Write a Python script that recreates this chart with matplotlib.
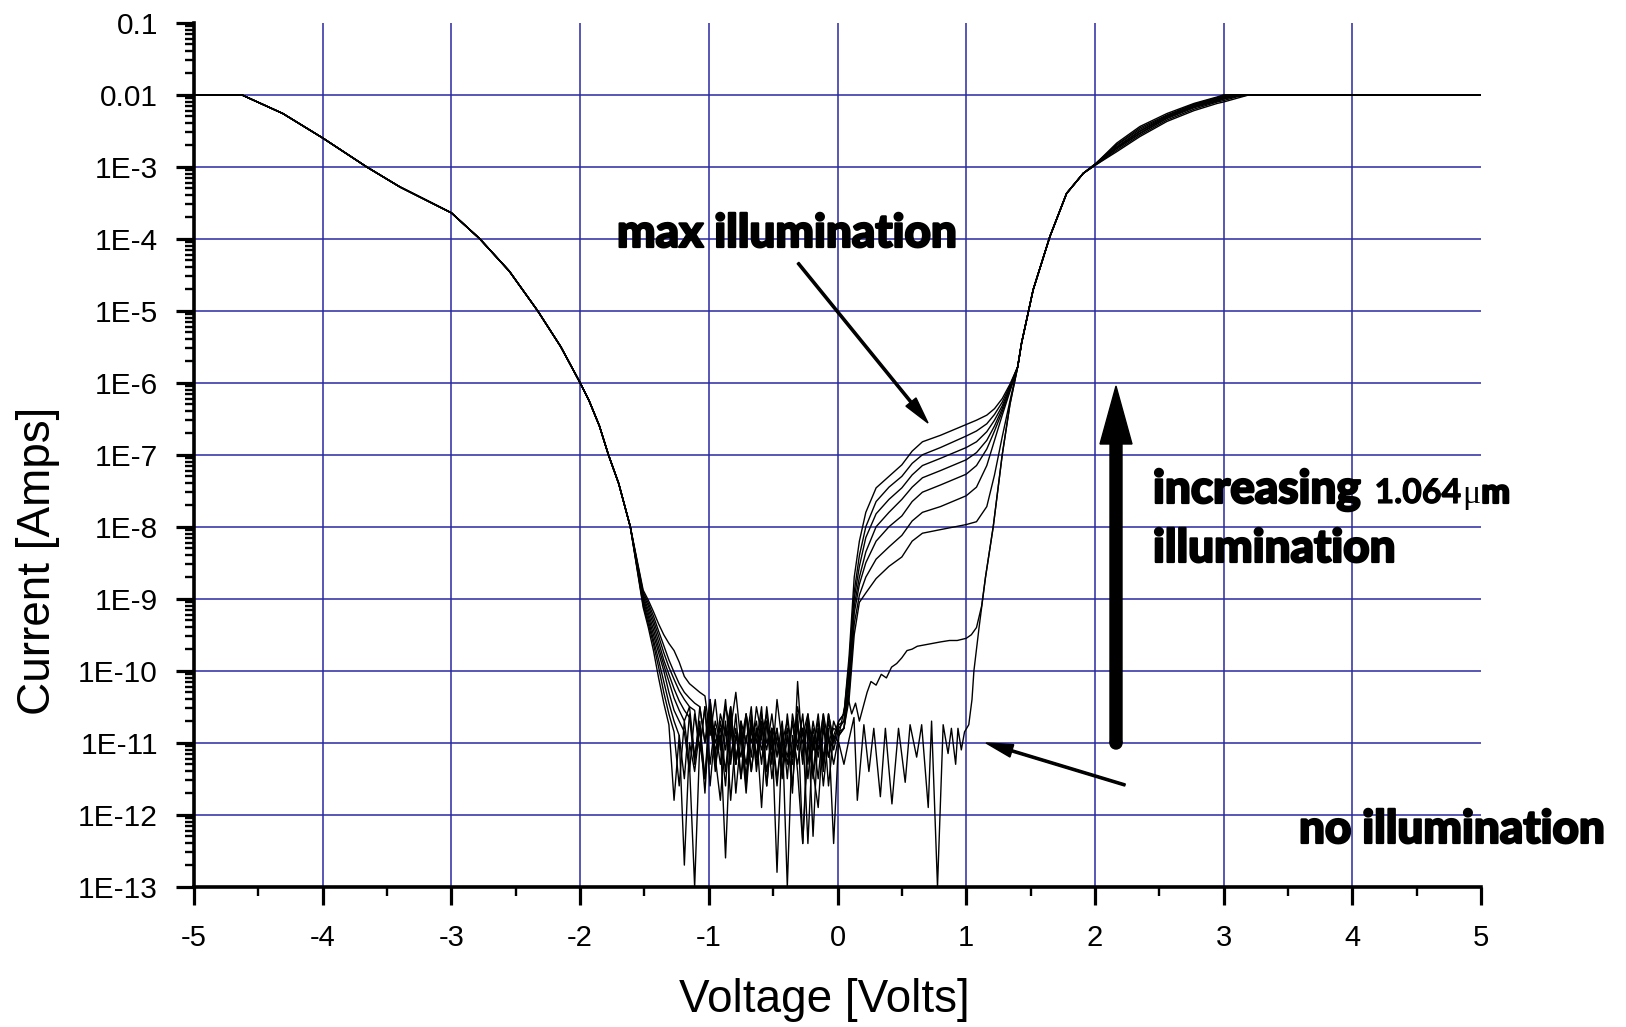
import numpy as np
import matplotlib
matplotlib.use("Agg")
import matplotlib.pyplot as plt
import matplotlib.patheffects as pe
from matplotlib.patches import FancyArrow, Circle
from matplotlib.transforms import IdentityTransform
from matplotlib.ticker import FixedLocator, LogLocator, NullFormatter

# ---------------------------------------------------------------------------
# I-V sweeps of the detector, log10(current / A) versus bias (V).
# Curve index 0 = no illumination, 1..8 = increasing 1.064 um illumination.
# ---------------------------------------------------------------------------

# reverse-bias branch shared by every sweep (compliance at 10 mA)
LEFT_X = [-5.0, -4.63, -4.31, -4.0, -3.66, -3.40, -3.2, -3.0, -2.78, -2.55,
          -2.33, -2.15, -2.0, -1.93, -1.85, -1.78, -1.70, -1.61]
LEFT_LOG = [-2.0, -2.0, -2.26, -2.60, -3.0, -3.28, -3.46, -3.64, -4.0, -4.45,
            -5.0, -5.5, -6.0, -6.25, -6.6, -7.0, -7.4, -8.0]

# low-bias region (noise floor), one list per sweep
MID_X = [-1.51, -1.47, -1.43, -1.39, -1.35, -1.31, -1.27, -1.23, -1.19, -1.15,
         -1.11, -1.07, -1.03, -0.99, -0.95, -0.91, -0.87, -0.83, -0.79, -0.75,
         -0.71, -0.67, -0.63, -0.59, -0.55, -0.51, -0.47, -0.43, -0.39, -0.35,
         -0.31, -0.27, -0.23, -0.19, -0.15, -0.11, -0.07, -0.03, 0.01]
MID_LOG = [
    [-9.12, -9.4, -9.72, -10.1, -10.45, -10.75, -11.8, -10.9, -12.7, -11.0,
     -11.4, -10.8, -11.5, -10.7, -11.3, -10.9, -11.6, -10.6, -11.2, -10.9,
     -11.7, -10.8, -11.3, -10.7, -11.4, -10.9, -11.6, -10.8, -13.0, -10.9,
     -11.3, -10.8, -12.4, -10.9, -11.5, -10.7, -11.2, -10.9, -11.0],
    [-9.09, -9.35, -9.63, -9.95, -10.3, -10.6, -10.85, -11.6, -10.7, -11.3,
     -13.0, -11.0, -11.5, -10.6, -11.2, -11.8, -10.8, -11.3, -10.6, -11.5,
     -10.9, -11.4, -10.8, -11.9, -10.7, -11.2, -10.8, -11.5, -10.9, -11.3,
     -10.6, -12.4, -11.0, -11.4, -10.8, -11.6, -10.9, -11.3, -10.9],
    [-9.06, -9.3, -9.57, -9.85, -10.15, -10.45, -10.7, -10.9, -11.5, -10.6,
     -11.2, -10.8, -11.7, -10.5, -11.1, -10.9, -12.6, -10.8, -11.3, -10.7,
     -11.5, -10.6, -11.2, -10.9, -11.6, -10.8, -11.0, -11.4, -10.9, -11.7,
     -10.15, -11.2, -10.7, -11.5, -10.9, -11.3, -10.8, -12.4, -10.9],
    [-9.03, -9.25, -9.5, -9.75, -10.0, -10.3, -10.55, -10.7, -10.85, -11.4,
     -10.6, -11.1, -10.5, -11.6, -10.8, -11.3, -10.7, -11.8, -10.9, -11.2,
     -10.6, -11.4, -10.8, -11.1, -10.7, -11.5, -10.9, -11.2, -10.8, -11.6,
     -10.7, -11.3, -10.6, -11.4, -11.9, -10.8, -11.2, -10.7, -10.9],
    [-9.0, -9.2, -9.43, -9.68, -9.92, -10.15, -10.38, -10.55, -10.7, -10.5,
     -11.2, -10.7, -11.5, -10.4, -11.0, -10.8, -11.4, -10.6, -11.7, -10.9,
     -11.3, -10.7, -11.0, -10.5, -11.6, -10.8, -12.8, -10.9, -11.3, -10.7,
     -11.1, -10.6, -11.5, -10.8, -11.2, -10.6, -11.0, -10.8, -10.85],
    [-8.97, -9.15, -9.36, -9.6, -9.85, -10.05, -10.25, -10.42, -10.55, -10.65,
     -11.3, -10.5, -11.0, -10.6, -11.4, -10.7, -11.1, -10.5, -11.3, -10.8,
     -11.6, -10.7, -11.2, -10.6, -11.0, -10.8, -11.5, -10.9, -11.2, -10.7,
     -11.4, -12.4, -10.8, -11.1, -10.6, -11.3, -10.7, -11.1, -10.8],
    [-8.94, -9.1, -9.3, -9.52, -9.75, -9.95, -10.12, -10.28, -10.4, -10.5,
     -10.55, -11.1, -10.5, -11.3, -10.7, -11.0, -10.4, -11.2, -10.8, -11.5,
     -10.6, -11.0, -10.7, -11.3, -10.5, -11.1, -10.8, -11.4, -10.6, -11.2,
     -10.8, -11.0, -10.7, -12.3, -10.8, -11.2, -10.6, -11.0, -10.75],
    [-8.91, -9.06, -9.24, -9.45, -9.65, -9.85, -10.02, -10.18, -10.3, -10.38,
     -10.45, -10.5, -11.0, -10.4, -11.2, -10.6, -10.9, -10.5, -11.3, -10.7,
     -11.0, -10.5, -11.4, -10.8, -11.1, -10.6, -11.2, -10.7, -11.5, -10.6,
     -11.0, -10.8, -11.3, -10.7, -11.1, -10.6, -11.6, -10.9, -10.7],
    [-8.88, -9.02, -9.18, -9.35, -9.5, -9.62, -9.72, -9.88, -10.08, -10.18,
     -10.24, -10.3, -10.35, -10.9, -10.4, -11.1, -10.5, -10.8, -10.3, -11.0,
     -10.6, -11.2, -10.5, -10.9, -10.6, -11.3, -10.4, -11.0, -10.7, -11.2,
     -10.5, -10.9, -10.6, -11.1, -10.7, -11.4, -10.6, -11.0, -10.7],
]

# forward bias, no illumination
DARK_FWD_X = [0.05, 0.09, 0.128, 0.154, 0.205, 0.244, 0.282, 0.333, 0.372,
              0.423, 0.474, 0.526, 0.564, 0.615, 0.654, 0.705, 0.731, 0.777,
              0.821, 0.859, 0.885, 0.918, 0.936, 0.962, 0.987, 1.02, 1.045,
              1.06, 1.10]
DARK_FWD_LOG = [-11.3, -10.95, -10.65, -11.8, -10.75, -11.4, -10.8, -11.75,
                -10.8, -11.85, -10.8, -11.55, -10.75, -11.2, -10.75, -11.9,
                -10.7, -13.0, -10.75, -11.15, -10.8, -11.3, -10.8, -11.1,
                -10.85, -10.75, -10.4, -10.0, -9.4]

# forward bias, weakest illumination
C1_X = [0.05, 0.08, 0.11, 0.14, 0.17, 0.20, 0.23, 0.26, 0.30, 0.34, 0.38,
        0.42, 0.46, 0.50, 0.54, 0.58, 0.62, 0.68, 0.74, 0.80, 0.87, 0.93,
        1.0, 1.04, 1.08, 1.12]
C1_LOG = [-10.55, -10.35, -10.6, -10.45, -10.7, -10.5, -10.3, -10.15, -10.2,
          -10.05, -10.1, -9.95, -9.9, -9.82, -9.72, -9.7, -9.66, -9.64,
          -9.62, -9.6, -9.58, -9.58, -9.55, -9.5, -9.4, -9.1]

# steep turn-on shared by the two lowest sweeps
STEEP_X = [1.15, 1.21, 1.28, 1.34]
STEEP_LOG = [-8.7, -8.0, -7.0, -6.3]

# forward bias, sweeps 2..8
FAM_X = [0.05, 0.09, 0.13, 0.17, 0.22, 0.30, 0.40, 0.50, 0.58, 0.66, 0.80,
         1.00, 1.08, 1.16, 1.22, 1.28, 1.34]
FAM_LOG = [
    [-10.8, -10.4, -9.5, -9.05, -8.92, -8.72, -8.55, -8.42, -8.2, -8.09,
     -8.04, -7.97, -7.93, -7.72, -7.28, -6.75, -6.25],
    [-10.8, -10.3, -9.35, -8.95, -8.7, -8.45, -8.28, -8.12, -7.92, -7.8,
     -7.72, -7.57, -7.45, -7.15, -6.8, -6.45, -6.12],
    [-10.8, -10.2, -9.2, -8.8, -8.5, -8.2, -8.0, -7.85, -7.65, -7.52,
     -7.42, -7.27, -7.15, -6.92, -6.67, -6.4, -6.1],
    [-10.7, -10.1, -9.1, -8.7, -8.35, -8.0, -7.8, -7.62, -7.45, -7.32,
     -7.22, -7.07, -6.97, -6.8, -6.6, -6.36, -6.08],
    [-10.7, -10.0, -9.0, -8.55, -8.15, -7.82, -7.62, -7.46, -7.28, -7.15,
     -7.05, -6.9, -6.82, -6.68, -6.52, -6.32, -6.06],
    [-10.6, -9.9, -8.9, -8.4, -8.0, -7.65, -7.45, -7.30, -7.12, -7.0,
     -6.9, -6.74, -6.67, -6.57, -6.44, -6.27, -6.04],
    [-10.6, -9.8, -8.7, -8.2, -7.8, -7.46, -7.30, -7.14, -6.95, -6.82,
     -6.73, -6.58, -6.52, -6.45, -6.36, -6.22, -6.02],
]

# high forward bias, shared
RIGHT_X = [1.40, 1.43, 1.52, 1.65, 1.78, 1.91]
RIGHT_LOG = [-5.78, -5.45, -4.71, -3.97, -3.37, -3.09]

# approach to compliance, one list per sweep
FAN_X = [2.01, 2.17, 2.35, 2.56, 2.77, 2.95, 3.0, 3.1, 3.2]
FAN_LOG = [
    [-2.95, -2.67, -2.44, -2.26, -2.12, -2.03, -2.0, -2.0, -2.0],
    [-2.95, -2.69, -2.46, -2.28, -2.13, -2.04, -2.01, -2.0, -2.0],
    [-2.95, -2.70, -2.48, -2.29, -2.14, -2.05, -2.02, -2.0, -2.0],
    [-2.96, -2.72, -2.50, -2.30, -2.15, -2.06, -2.03, -2.01, -2.0],
    [-2.96, -2.73, -2.51, -2.31, -2.16, -2.07, -2.04, -2.01, -2.0],
    [-2.96, -2.74, -2.53, -2.32, -2.17, -2.08, -2.05, -2.02, -2.0],
    [-2.96, -2.75, -2.54, -2.33, -2.18, -2.09, -2.06, -2.02, -2.0],
    [-2.97, -2.77, -2.56, -2.35, -2.20, -2.10, -2.08, -2.03, -2.0],
    [-2.97, -2.79, -2.58, -2.37, -2.22, -2.12, -2.10, -2.05, -2.0],
]
SAT_X = [5.0]
SAT_LOG = [-2.0]

# axes
X_TICKS = [-5, -4, -3, -2, -1, 0, 1, 2, 3, 4, 5]
X_TICK_LABELS = ["-5", "-4", "-3", "-2", "-1", "0", "1", "2", "3", "4", "5"]
X_MINOR = [-4.5, -3.5, -2.5, -1.5, -0.5, 0.5, 1.5, 2.5, 3.5, 4.5]
Y_TICKS = [1e-13, 1e-12, 1e-11, 1e-10, 1e-9, 1e-8, 1e-7, 1e-6, 1e-5, 1e-4,
           1e-3, 1e-2, 1e-1]
Y_TICK_LABELS = ["1E-13", "1E-12", "1E-11", "1E-10", "1E-9", "1E-8", "1E-7",
                 "1E-6", "1E-5", "1E-4", "1E-3", "0.01", "0.1"]
GRID_V = [-4, -3, -2, -1, 0, 1, 2, 3, 4]
GRID_H = [1e-12, 1e-11, 1e-10, 1e-9, 1e-8, 1e-7, 1e-6, 1e-5, 1e-4, 1e-3, 1e-2]


def sweep(k):
    xs = list(LEFT_X) + list(MID_X)
    ys = list(LEFT_LOG) + list(MID_LOG[k])
    if k == 0:
        xs += DARK_FWD_X + STEEP_X
        ys += DARK_FWD_LOG + STEEP_LOG
    elif k == 1:
        xs += C1_X + STEEP_X
        ys += C1_LOG + STEEP_LOG
    else:
        xs += FAM_X
        ys += FAM_LOG[k - 2]
    xs += RIGHT_X + FAN_X + SAT_X
    ys += RIGHT_LOG + FAN_LOG[k] + SAT_LOG
    return np.array(xs), 10.0 ** np.array(ys)


plt.rcParams["font.family"] = ["Liberation Sans", "DejaVu Sans"]

W, H, DPI = 1626, 1027, 100
fig = plt.figure(figsize=(W / DPI, H / DPI), dpi=DPI)
fig.patch.set_facecolor("white")

AX_L, AX_R, AX_T, AX_B = 194, 1481, 22.8, 886.7
ax = fig.add_axes([AX_L / W, 1 - AX_B / H, (AX_R - AX_L) / W, (AX_B - AX_T) / H])
ax.set_yscale("log")
ax.set_xlim(-5, 5)
ax.set_ylim(1e-13, 1e-1)

GRID_COLOR = "#2a2aa2"
for v in GRID_V:
    ax.axvline(v, color=GRID_COLOR, lw=1.1, zorder=1)
for d in GRID_H:
    ax.axhline(d, color=GRID_COLOR, lw=1.1, zorder=1)

for k in range(len(MID_LOG)):
    x, y = sweep(k)
    ax.plot(x, y, color="black", lw=1.0, zorder=3)

for side in ("top", "right"):
    ax.spines[side].set_visible(False)
for side in ("left", "bottom"):
    ax.spines[side].set_linewidth(2.6)
    ax.spines[side].set_zorder(5)

ax.set_xticks(X_TICKS)
ax.set_xticklabels(X_TICK_LABELS)
ax.xaxis.set_minor_locator(FixedLocator(X_MINOR))
ax.set_yticks(Y_TICKS)
ax.set_yticklabels(Y_TICK_LABELS)
ax.yaxis.set_minor_locator(LogLocator(base=10, subs=np.arange(2, 10), numticks=60))
ax.yaxis.set_minor_formatter(NullFormatter())
ax.tick_params(which="major", direction="out", length=13, width=2.3, color="black")
ax.tick_params(which="minor", direction="out", length=6.5, width=1.7, color="black")
ax.tick_params(axis="y", which="major", pad=13, labelsize=21.5)
ax.tick_params(axis="x", which="major", pad=14, labelsize=21)

fig.text(824 / W, 1 - 1000 / H, "Voltage [Volts]", fontsize=33,
         ha="center", va="center")
fig.text(38 / W, 1 - 561 / H, "Current [Amps]", fontsize=33, rotation=90,
         ha="center", va="center")

# annotation text in pixel positions
renderer = fig.canvas.get_renderer()
THICK = [pe.withStroke(linewidth=1.6, foreground="black")]
HEAVY = dict(family=["Lato", "DejaVu Sans"], weight="black", path_effects=THICK)


def put(x_px, base_px, s, size, **kw):
    return fig.text(x_px / W, 1 - base_px / H, s, fontsize=size,
                    ha="left", va="baseline", **kw)


def right_px(t):
    return t.get_window_extent(renderer).x1


probe = put(0, 0, "illumination", 30, **HEAVY)
BIG = 30 * 242 / probe.get_window_extent(renderer).width
probe.remove()
SMALL = BIG * 0.74

put(617, 247, "max illumination", BIG, **HEAVY)
t = put(1153, 503, "increasing", BIG, **HEAVY)
t = put(right_px(t) + 14, 503, "1.064", SMALL,
        family=["Lato", "DejaVu Sans"], weight="bold",
        path_effects=[pe.withStroke(linewidth=0.8, foreground="black")])
t = put(right_px(t) + 1, 503, "\u03bc", SMALL,
        family=["Liberation Serif", "DejaVu Serif"])
put(right_px(t) + 1, 503, "m", SMALL, **HEAVY)
put(1153, 562, "illumination", BIG, **HEAVY)
put(1299, 843, "no illumination", BIG, **HEAVY)

px = IdentityTransform()
# thick arrow
fig.add_artist(FancyArrow(1116, H - 743, 0, 743 - 386, width=12, head_width=32,
                          head_length=58, length_includes_head=True,
                          color="black", transform=px))
fig.add_artist(Circle((1116, H - 743), 6, color="black", transform=px))
# thin pointers
fig.add_artist(FancyArrow(798, H - 263, 928 - 798, -(423 - 263), width=2.2,
                          head_width=13, head_length=27, length_includes_head=True,
                          color="black", transform=px))
fig.add_artist(FancyArrow(1125, H - 785, 986 - 1125, -(743 - 785), width=2.2,
                          head_width=13, head_length=27, length_includes_head=True,
                          color="black", transform=px))

fig.savefig("out.png", dpi=DPI, facecolor="white")
